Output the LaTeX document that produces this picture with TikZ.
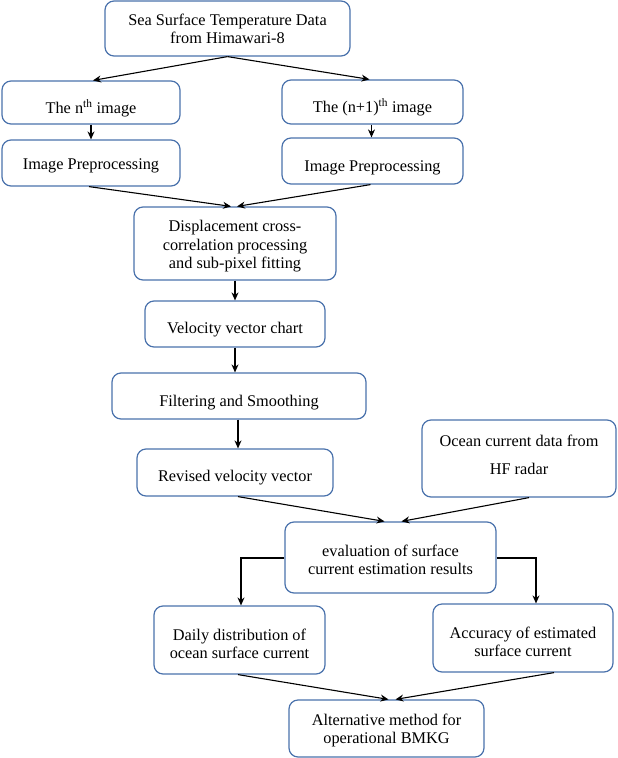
\documentclass[tikz,border=0pt]{standalone}
\usepackage{fontspec}
\setmainfont{Liberation Serif}
\usetikzlibrary{arrows.meta}
\definecolor{boxblue}{RGB}{74,114,172}
\tikzset{
  box/.style={draw=boxblue, line width=1.2pt, rounded corners=9pt, fill=white,
    align=center, inner sep=2pt, font=\fontsize{16.3}{18.5}\selectfont},
  th/.style={text height=#1, text depth=3.5pt},
  arr/.style={draw=black, line width=1.1pt, -{Stealth[length=8pt,width=7pt]}},
}
\begin{document}
\begin{tikzpicture}[x=1pt,y=-1pt]
\useasboundingbox (0,0) rectangle (618,758);
\node[box, th=33.6pt, minimum width=245pt, minimum height=55pt] (sst) at (227.5,28.5) {Sea Surface Temperature Data\\from Himawari-8};
\node[box, th=25.1pt, minimum width=178pt, minimum height=43pt] (nth) at (91,102.5) {The n\textsuperscript{th} image};
\node[box, th=24.1pt, minimum width=181pt, minimum height=44pt] (np1) at (372.5,102) {The (n+1)\textsuperscript{th} image};
\node[box, th=16.1pt, minimum width=178pt, minimum height=46pt] (ipl) at (91,163) {Image Preprocessing};
\node[box, th=24.1pt, minimum width=181pt, minimum height=46pt] (ipr) at (372.5,161) {Image Preprocessing};
\node[box, th=54.1pt, minimum width=202pt, minimum height=73pt] (disp) at (235,243.5) {Displacement cross-\\correlation processing\\and sub-pixel fitting};
\node[box, th=22.1pt, minimum width=180pt, minimum height=46pt] (vel) at (235,324) {Velocity vector chart};
\node[box, th=24.1pt, minimum width=254pt, minimum height=46pt] (filt) at (239,396) {Filtering and Smoothing};
\node[box, th=21.1pt, minimum width=196pt, minimum height=47pt] (rev) at (235,472.5) {Revised velocity vector};
\node[box, th=35.1pt, minimum width=194pt, minimum height=77pt, font=\fontsize{16.3}{28}\selectfont] (ocean) at (519,458.5) {Ocean current data from\\HF radar};
\node[box, th=37.6pt, minimum width=211pt, minimum height=71pt] (eval) at (390.5,557.5) {evaluation of surface\\current estimation results};
\node[box, th=40.6pt, minimum width=171pt, minimum height=68pt] (daily) at (239.5,640) {Daily distribution of\\ocean surface current};
\node[box, th=40.6pt, minimum width=180pt, minimum height=68pt] (acc) at (523,638) {Accuracy of estimated\\surface current};
\node[box, th=33.6pt, minimum width=195pt, minimum height=57pt] (alt) at (386.5,728.5) {Alternative method for\\operational BMKG};

\draw[arr] (sst.south) -- ([xshift=2pt]nth.north);
\draw[arr] (sst.south) -- ([xshift=-3pt]np1.north);
\draw[arr] (nth.south) -- (ipl.north);
\draw[arr] ([xshift=-1pt]np1.south) -- ([xshift=-1pt]ipr.north);
\draw[arr] ([xshift=-2pt]ipl.south) -- ([xshift=-4pt]disp.north);
\draw[arr] ([xshift=-2pt]ipr.south) -- ([xshift=2pt]disp.north);
\draw[arr] (disp.south) -- (vel.north);
\draw[arr] (vel.south) -- (vel.south |- filt.north);
\draw[arr] ([xshift=-1pt]filt.south) -- ([xshift=-1pt]filt.south |- rev.north);
\draw[arr] ([xshift=3pt]rev.south) -- ([xshift=-6pt]eval.north);
\draw[arr] ([xshift=10pt]ocean.south) -- ([xshift=11pt]eval.north);
\draw[arr] ([yshift=-0.5pt]eval.west) -| ([xshift=1.5pt]daily.north);
\draw[arr] ([yshift=-0.5pt]eval.east) -| ([xshift=13pt]acc.north);
\draw[arr] ([xshift=-1.5pt]daily.south) -- ([xshift=2pt]alt.north);
\draw[arr] ([xshift=31pt]acc.south) -- ([xshift=9pt]alt.north);
\end{tikzpicture}
\end{document}
